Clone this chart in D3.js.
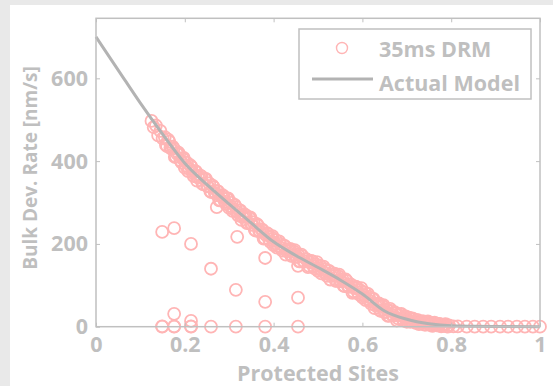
<!DOCTYPE html>
<html><head><meta charset="utf-8">
<script src="https://cdn.jsdelivr.net/npm/d3@7"></script>
<style>
html,body{margin:0;padding:0;background:#e9e9e9;}
svg{display:block;}
text{font-family:"Open Sans",sans-serif;font-weight:700;fill:#bfbfbf;}
</style></head><body>
<script>
// ---- data ----
const modelX = [0,0.05,0.1,0.15,0.2,0.25,0.3,0.35,0.4,0.45,0.5,0.55,0.6,0.65,0.7,0.75,0.8,0.85,0.9,1.0];
const modelY = [700,620,540,465,395,343,296,250,205,172,143,113,79,38,18,7,2,1,0.5,0];

const bandX = [0.125,0.130,0.135,0.140,0.145,0.150,0.155,0.160,0.165,0.170,0.175,0.180,0.185,0.190,0.195,0.200,0.205,0.210,0.215,0.220,0.225,0.230,0.235,0.240,0.245,0.250,0.255,0.260,0.265,0.270,0.275,0.280,0.285,0.290,0.295,0.300,0.305,0.310,0.315,0.320,0.325,0.330,0.335,0.340,0.345,0.350,0.355,0.360,0.365,0.370,0.375,0.380,0.385,0.390,0.395,0.400,0.405,0.410,0.415,0.420,0.425,0.430,0.435,0.440,0.445,0.450,0.455,0.460,0.465,0.470,0.475,0.480,0.485,0.490,0.495,0.500,0.505,0.510,0.515,0.520,0.525,0.530,0.535,0.540,0.545,0.550,0.555,0.560,0.565,0.570,0.575,0.580,0.585,0.590,0.595,0.600,0.605,0.610,0.615,0.620,0.625,0.630,0.635,0.640,0.645,0.650,0.655,0.660,0.665,0.670,0.675,0.680,0.685,0.690,0.695,0.700,0.705,0.710,0.715,0.720,0.725,0.730,0.735,0.740,0.745,0.750,0.755,0.760,0.765,0.770,0.775,0.780,0.785,0.790,0.795];
const bandY = [497,482,486,462,473,455,458,436,447,430,431,411,421,402,406,384,396,381,386,364,375,360,365,345,357,340,346,325,337,321,327,306,318,302,309,287,299,284,289,269,281,265,271,250,263,247,252,232,244,229,234,214,226,211,216,197,209,195,200,184,195,182,187,171,182,169,174,158,170,157,162,147,159,146,151,135,147,134,139,123,135,122,127,111,123,110,115,98,110,96,101,85,97,83,88,71,83,68,72,55,67,51,55,39,50,35,41,27,38,27,32,20,30,19,24,12,22,13,18,9,16,8,13,5,11,5,9,3,7,3,6,2,5,1,3];

const band2X = [0.1575,0.1625,0.1675,0.1725,0.1775,0.1825,0.1875,0.1925,0.1975,0.2025,0.2075,0.2125,0.2175,0.2225,0.2275,0.2325,0.2375,0.2425,0.2475,0.2525,0.2575,0.2625,0.2675,0.2725,0.2775,0.2825,0.2875,0.2925,0.2975,0.3025,0.3075,0.3125,0.3175,0.3225,0.3275,0.3325,0.3375,0.3425,0.3475,0.3525,0.3575,0.3625,0.3675,0.3725,0.3775,0.3825,0.3875,0.3925,0.3975,0.4025,0.4075,0.4125,0.4175,0.4225,0.4275,0.4325,0.4375,0.4425,0.4475,0.4525,0.4575,0.4625,0.4675,0.4725,0.4775,0.4825,0.4875,0.4925,0.4975,0.5025,0.5075,0.5125,0.5175,0.5225,0.5275,0.5325,0.5375,0.5425,0.5475,0.5525,0.5575,0.5625,0.5675,0.5725,0.5775,0.5825,0.5875,0.5925,0.5975,0.6025,0.6075,0.6125,0.6175,0.6225,0.6275,0.6325,0.6375,0.6425,0.6475,0.6525,0.6575,0.6625,0.6675,0.6725,0.6775,0.6825,0.6875,0.6925,0.6975,0.7025,0.7075,0.7125,0.7175,0.7225,0.7275,0.7325,0.7375,0.7425,0.7475,0.7525,0.7575,0.7625,0.7675,0.7725,0.7775,0.7825,0.7875,0.7925];
const band2Y = [439,452,432,435,410,418,417,397,408,389,376,390,372,376,353,362,363,344,357,339,327,341,323,328,305,314,315,297,310,292,280,294,277,281,258,268,269,251,264,246,234,248,231,235,213,222,224,205,219,202,191,206,190,196,174,185,188,171,185,169,158,174,158,164,144,155,158,141,156,140,129,145,129,135,114,125,128,111,126,110,99,114,98,103,82,93,95,78,93,76,64,79,62,67,45,54,56,38,52,36,26,43,28,35,15,27,31,15,25,16,12,20,12,16,6,11,13,5,13,5,2,10,3,7,1,4,6,0];

const tailX = [0.805,0.815,0.835,0.853,0.872,0.890,0.910,0.928,0.948,0.966,0.984,1.000];
const tailY = [1,1,0,0,0,0,0,0,0,0,0,0];

const outX = [0.149,0.176,0.214,0.259,0.272,0.318,0.315,0.381,0.381,0.176,0.214,0.455,0.455,
              0.149,0.176,0.214,0.259,0.315,0.381,0.455,0.149,0.176,0.214];
const outY = [229,238,200,140,289,217,89,166,60,31,14,147,70,
              0,0,0,0,0,0,0,1,1,1];

const xTicks = [0,0.2,0.4,0.6,0.8,1];
const xTickLabels = ["0","0.2","0.4","0.6","0.8","1"];
const yTicks = [0,200,400,600];
const seriesNames = ["35ms DRM","Actual Model"];
const xTitle = "Protected Sites";
const yTitle = "Bulk Dev. Rate [nm/s]";

// ---- layout ----
const W = 553, H = 386;
const m = {l:96, r:13, t:18.3, b:59.3};
const pw = W - m.l - m.r, ph = H - m.t - m.b;
const pink = "#ffb5b5", gray = "#b3b3b3", axc = "#c0c0c0";

const svg = d3.select("body").append("svg").attr("width",W).attr("height",H);
svg.append("rect").attr("x",10).attr("y",5).attr("width",W-10).attr("height",H-5).attr("fill","#fff");

const x = d3.scaleLinear().domain([0,1]).range([m.l, m.l+pw]);
const y = d3.scaleLinear().domain([0,745]).range([m.t+ph, m.t]);

const scatter = [];
bandX.forEach((v,i)=>scatter.push([v,bandY[i]]));
band2X.forEach((v,i)=>scatter.push([v,band2Y[i]]));
tailX.forEach((v,i)=>scatter.push([v,tailY[i]]));
outX.forEach((v,i)=>scatter.push([v,outY[i]]));

svg.append("g").selectAll("circle").data(scatter).join("circle")
  .attr("cx",d=>x(d[0])).attr("cy",d=>y(d[1])).attr("r",6)
  .attr("fill","none").attr("stroke",pink).attr("stroke-width",1.8);

const model = modelX.map((v,i)=>[v,modelY[i]]);
svg.append("path").datum(model)
  .attr("d", d3.line().x(d=>x(d[0])).y(d=>y(d[1])).curve(d3.curveMonotoneX))
  .attr("fill","none").attr("stroke",gray).attr("stroke-width",3);

// axes box
svg.append("rect").attr("x",m.l).attr("y",m.t).attr("width",pw).attr("height",ph)
  .attr("fill","none").attr("stroke",axc).attr("stroke-width",1.5);

const xb = svg.append("g").attr("transform",`translate(0,${m.t+ph})`)
  .call(d3.axisBottom(x).tickValues(xTicks).tickFormat((d,i)=>xTickLabels[i]).tickSize(-4).tickPadding(10));
const xt = svg.append("g").attr("transform",`translate(0,${m.t})`)
  .call(d3.axisTop(x).tickValues(xTicks).tickFormat("").tickSize(-4));
const yl = svg.append("g").attr("transform",`translate(${m.l},0)`)
  .call(d3.axisLeft(y).tickValues(yTicks).tickSize(-4).tickPadding(8));
const yr = svg.append("g").attr("transform",`translate(${m.l+pw},0)`)
  .call(d3.axisRight(y).tickValues(yTicks).tickFormat("").tickSize(-4));
[xb,xt,yl,yr].forEach(g=>{
  g.select(".domain").remove();
  g.selectAll("line").attr("stroke",axc).attr("stroke-width",1);
  g.selectAll("text").attr("fill",axc).style("font-size","21.5px").style("font-family","'Open Sans',sans-serif").style("font-weight",700);
});

svg.append("text").attr("x",m.l+pw/2).attr("y",381).attr("text-anchor","middle")
  .style("font-size","21.5px").text(xTitle);
svg.append("text").attr("transform",`translate(37,168) rotate(-90)`).attr("text-anchor","middle")
  .style("font-size","19px").text(yTitle);

// legend
const lg = svg.append("g");
lg.append("rect").attr("x",299).attr("y",29).attr("width",232).attr("height",70)
  .attr("fill","#fff").attr("stroke",axc).attr("stroke-width",1.5);
lg.append("circle").attr("cx",342).attr("cy",48).attr("r",5.5)
  .attr("fill","none").attr("stroke",pink).attr("stroke-width",1.4);
lg.append("line").attr("x1",312).attr("x2",373).attr("y1",79).attr("y2",79)
  .attr("stroke",gray).attr("stroke-width",3);
lg.append("text").attr("x",379).attr("y",57).style("font-size","21.5px").text(seriesNames[0]);
lg.append("text").attr("x",379).attr("y",91).style("font-size","21.5px").text(seriesNames[1]);
</script>
</body></html>
